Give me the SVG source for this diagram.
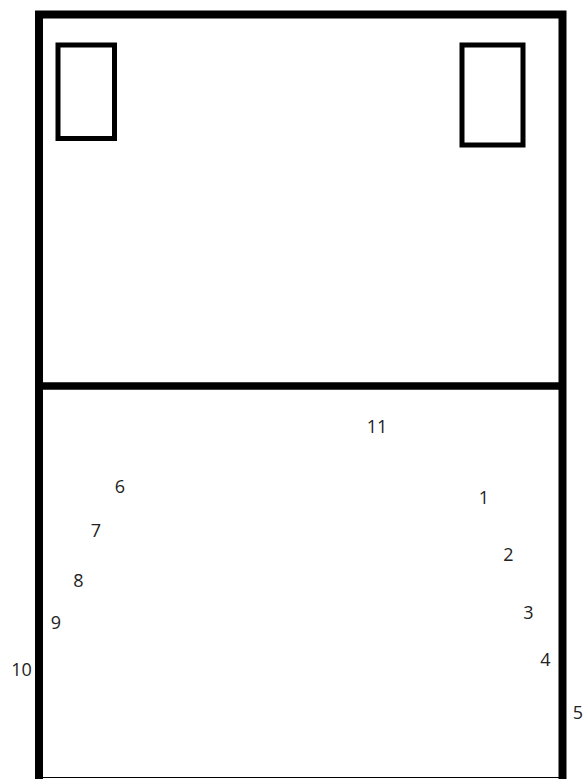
<svg xmlns="http://www.w3.org/2000/svg" width="588" height="779" viewBox="0 0 588 779">
<style>
.frame{fill:none;stroke:#000;stroke-width:8}
.box{fill:none;stroke:#000;stroke-width:5}
.lbl{font-family:"Open Sans","Liberation Sans",sans-serif;font-size:18px;fill:#222;text-anchor:middle}
</style>
<rect width="588" height="779" fill="#fff"/>
<g id="frame">
<path class="frame" d="M39,779 V14.5 H562.5 V779"/>
<line x1="39" y1="386" x2="562.5" y2="386" stroke="#000" stroke-width="7.5"/>
<line x1="39" y1="777.5" x2="562.5" y2="777.5" stroke="#000" stroke-width="1"/>
</g>
<g id="box-left"><rect class="box" x="58" y="45" width="56.5" height="93.5"/></g>
<g id="box-right"><rect class="box" x="462" y="45" width="61" height="100"/></g>
<g id="labels">
<text class="lbl" x="377" y="433">11</text>
<text class="lbl" x="120" y="493">6</text>
<text class="lbl" x="96" y="537">7</text>
<text class="lbl" x="78.5" y="587">8</text>
<text class="lbl" x="56" y="629">9</text>
<text class="lbl" x="21.5" y="676">10</text>
<text class="lbl" x="484" y="504">1</text>
<text class="lbl" x="508.5" y="561">2</text>
<text class="lbl" x="528.5" y="619">3</text>
<text class="lbl" x="545.5" y="666">4</text>
<text class="lbl" x="578" y="719">5</text>
</g>
</svg>
